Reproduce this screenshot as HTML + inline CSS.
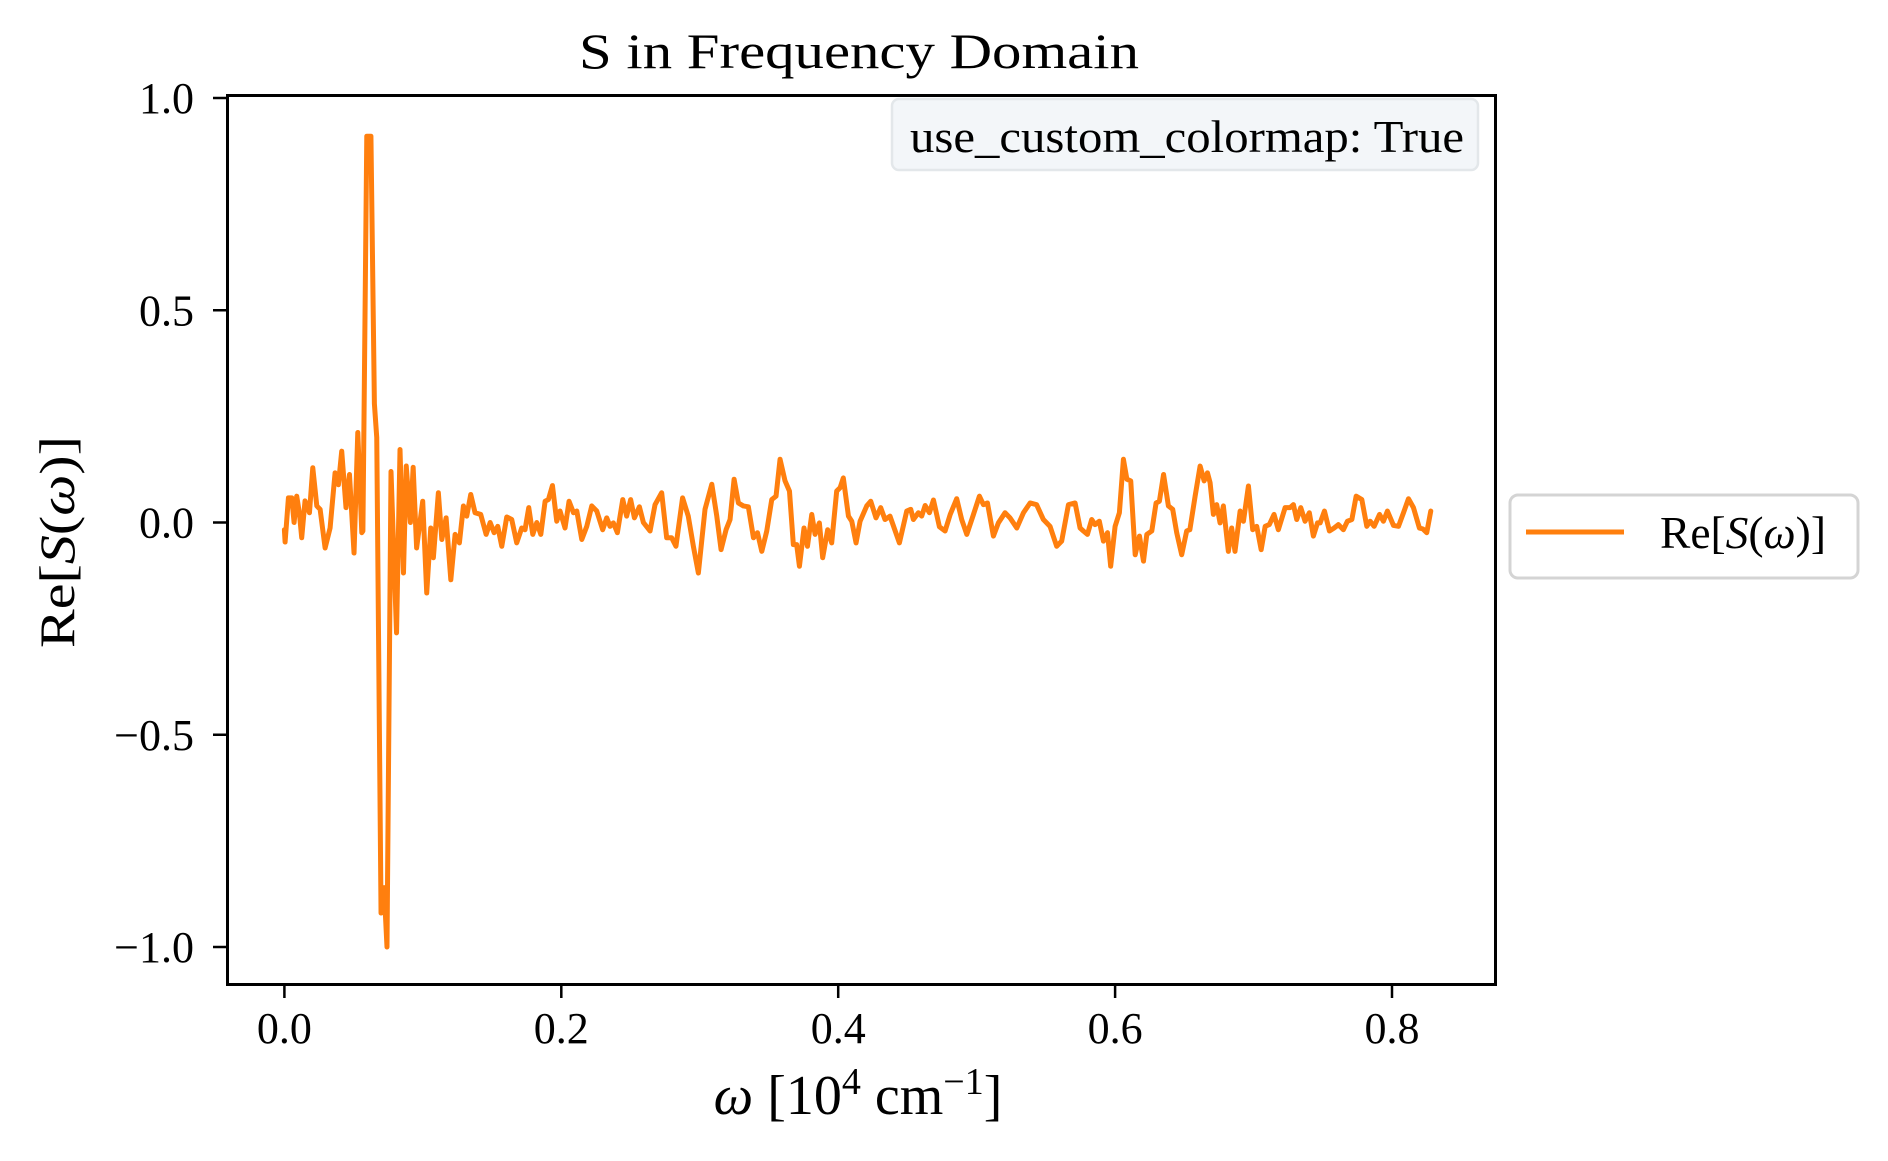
<!DOCTYPE html>
<html><head><meta charset="utf-8"><style>
html,body{margin:0;padding:0;background:#fff;}
svg{display:block;font-family:"Liberation Serif",serif;}
</style></head><body>
<svg id="chart" width="1888" height="1161" viewBox="0 0 1888 1161" xmlns="http://www.w3.org/2000/svg">
<rect x="0" y="0" width="1888" height="1161" fill="#fff"/>
<text x="859" y="68" font-size="50" text-anchor="middle" textLength="560" lengthAdjust="spacingAndGlyphs">S in Frequency Domain</text>
<g id="plot"></g>
<rect x="227.5" y="95.5" width="1268" height="889" fill="none" stroke="#000" stroke-width="3"/>
<g>
<rect x="892" y="99" width="586" height="71" rx="7" fill="#f3f6f9" stroke="#e3e7ea" stroke-width="2.5"/>
<text x="910" y="152" font-size="45" textLength="554" lengthAdjust="spacingAndGlyphs">use_custom_colormap: True</text>
</g>
<g>
<rect x="1510" y="495" width="348" height="83" rx="8" fill="#fff" stroke="#d4d4d4" stroke-width="3"/>
<line x1="1526" y1="532" x2="1624" y2="532" stroke="#ff7f0e" stroke-width="5"/>
<text x="1660" y="548" font-size="45" textLength="166" lengthAdjust="spacingAndGlyphs">Re[<tspan font-style="italic">S</tspan>(<tspan font-style="italic">ω</tspan>)]</text>
</g>
<text x="858" y="1114" font-size="56" text-anchor="middle"><tspan font-style="italic">ω</tspan> [10<tspan dy="-20" font-size="38">4</tspan><tspan dy="20"> cm</tspan><tspan dy="-20" font-size="38">−1</tspan><tspan dy="20">]</tspan></text>
<text transform="translate(74,542) rotate(-90)" font-size="50" text-anchor="middle" textLength="212" lengthAdjust="spacingAndGlyphs">Re[<tspan font-style="italic">S</tspan>(<tspan font-style="italic">ω</tspan>)]</text>
</svg>
<script>
const xTicks = [0.0, 0.2, 0.4, 0.6, 0.8];
const xTickLabels = ["0.0", "0.2", "0.4", "0.6", "0.8"];
const yTicks = [1.0, 0.5, 0.0, -0.5, -1.0];
const yTickLabels = ["1.0", "0.5", "0.0", "\u22120.5", "\u22121.0"];
const omega = [0.0,0.0005,0.0029,0.0053,0.007,0.0089,0.0108,0.0125,0.0149,0.0181,0.0205,0.0234,0.0258,0.0294,0.033,0.0366,0.039,0.0414,0.0445,0.047,0.0503,0.053,0.0559,0.0567,0.0595,0.0625,0.065,0.0667,0.0698,0.072,0.0741,0.0770,0.081,0.0835,0.086,0.088,0.091,0.093,0.0955,0.0999,0.1028,0.1057,0.1076,0.1112,0.1137,0.1168,0.1202,0.1233,0.1264,0.1293,0.1317,0.1346,0.1377,0.1418,0.1457,0.1486,0.1515,0.1541,0.157,0.1606,0.1642,0.1678,0.1714,0.1738,0.1765,0.1794,0.1823,0.1852,0.1883,0.1907,0.1936,0.1967,0.1991,0.2027,0.2056,0.2088,0.2112,0.2148,0.2184,0.222,0.2256,0.2299,0.2328,0.2352,0.2376,0.2405,0.2444,0.2472,0.2501,0.2528,0.2564,0.2593,0.2641,0.2677,0.2725,0.2761,0.2797,0.2828,0.2876,0.2917,0.2954,0.299,0.3038,0.3087,0.3123,0.3154,0.319,0.3219,0.3248,0.3279,0.3315,0.3351,0.3388,0.3417,0.3448,0.3484,0.352,0.3551,0.358,0.3616,0.3648,0.3676,0.37,0.372,0.3753,0.3778,0.3809,0.3833,0.3864,0.3888,0.3924,0.3953,0.3989,0.4014,0.4037,0.4074,0.4098,0.4129,0.4158,0.4206,0.4235,0.4273,0.4307,0.4338,0.4374,0.4442,0.4495,0.4524,0.4543,0.4579,0.4603,0.4628,0.4659,0.4688,0.4731,0.4772,0.4809,0.4856,0.4892,0.4929,0.4977,0.502,0.5049,0.5078,0.5121,0.5157,0.5205,0.5241,0.529,0.5338,0.5386,0.5433,0.5482,0.553,0.5578,0.5614,0.5663,0.5711,0.5747,0.5771,0.58,0.5831,0.5855,0.5886,0.5916,0.5945,0.5968,0.6,0.6031,0.606,0.6085,0.6113,0.6145,0.6176,0.6205,0.6229,0.6265,0.6296,0.632,0.635,0.6385,0.6416,0.6445,0.6481,0.6517,0.654,0.6578,0.6614,0.6643,0.6667,0.6686,0.671,0.6734,0.6758,0.6782,0.6818,0.6842,0.6866,0.6903,0.6927,0.6963,0.6994,0.7023,0.7055,0.7084,0.7114,0.7148,0.7179,0.7228,0.7264,0.7288,0.7312,0.7341,0.7372,0.7403,0.7432,0.7462,0.7481,0.7512,0.7548,0.7582,0.7613,0.7649,0.7678,0.771,0.7741,0.7782,0.7818,0.7842,0.7871,0.791,0.7938,0.7967,0.8011,0.8047,0.8083,0.8119,0.8155,0.8198,0.8222,0.8251,0.828];
const reS = [-0.017,-0.046,0.058,0.058,0.0,0.062,0.023,-0.036,0.051,0.023,0.129,0.039,0.031,-0.06,-0.013,0.117,0.089,0.168,0.035,0.113,-0.072,0.212,-0.024,-0.02,0.91,0.91,0.28,0.20,-0.92,-0.86,-1.0,0.12,-0.26,0.172,-0.119,0.133,0.0,0.13,-0.06,0.05,-0.166,-0.013,-0.083,0.07,-0.04,0.011,-0.135,-0.028,-0.048,0.039,0.015,0.066,0.023,0.019,-0.028,0.0,-0.024,-0.009,-0.056,0.013,0.007,-0.048,-0.013,-0.017,0.035,-0.028,0.0,-0.028,0.05,0.054,0.087,0.003,0.027,-0.013,0.05,0.023,0.027,-0.04,-0.009,0.039,0.027,-0.017,0.011,-0.009,-0.001,-0.024,0.054,0.015,0.054,0.011,0.037,0.0,-0.02,0.042,0.07,-0.036,-0.036,-0.056,0.058,0.015,-0.056,-0.119,0.031,0.09,0.015,-0.064,-0.017,0.007,0.102,0.046,0.039,0.037,-0.036,-0.024,-0.068,-0.02,0.054,0.062,0.149,0.098,0.074,-0.052,-0.052,-0.103,-0.013,-0.056,0.019,-0.028,-0.001,-0.083,-0.017,-0.048,0.074,0.082,0.105,0.015,0.003,-0.048,0.003,0.039,0.05,0.011,0.035,0.007,0.015,-0.048,0.027,0.031,0.007,0.023,0.015,0.04,0.023,0.053,-0.01,-0.02,0.019,0.056,0.007,-0.028,0.019,0.062,0.042,0.046,-0.032,-0.001,0.023,0.011,-0.013,0.023,0.046,0.042,0.007,-0.009,-0.056,-0.044,0.042,0.046,-0.013,-0.02,-0.028,0.007,-0.005,0.003,-0.044,-0.024,-0.103,-0.009,0.023,0.149,0.102,0.098,-0.076,-0.032,-0.091,-0.028,-0.02,0.046,0.05,0.113,0.039,0.031,-0.024,-0.076,-0.02,-0.017,0.062,0.133,0.098,0.117,0.094,0.019,0.042,-0.001,0.039,-0.068,-0.013,-0.068,0.027,0.003,0.086,-0.017,-0.009,-0.064,-0.009,-0.005,0.019,-0.017,0.035,0.035,0.042,0.007,0.035,0.003,0.023,-0.032,-0.001,-0.001,0.027,-0.02,-0.013,-0.005,-0.017,0.003,0.007,0.062,0.054,-0.009,0.003,-0.009,0.019,0.003,0.027,-0.007,-0.009,0.023,0.056,0.035,-0.013,-0.015,-0.024,0.027];

const NS = "http://www.w3.org/2000/svg";
function xScale(v){ return 284.4 + v * 1384.5; }
function yScale(v){ return 522.5 - v * 424.5; }
const svg = document.getElementById('chart');
const plot = document.getElementById('plot');

let d = "";
for (let i = 0; i < omega.length; i++) {
  d += (i ? "L" : "M") + xScale(omega[i]).toFixed(2) + " " + yScale(reS[i]).toFixed(2);
}
const path = document.createElementNS(NS, 'path');


path.setAttribute('d', d);
path.setAttribute('fill', 'none');
path.setAttribute('stroke', '#ff7f0e');
path.setAttribute('stroke-width', '5');
path.setAttribute('stroke-linejoin', 'round');
path.setAttribute('stroke-linecap', 'round');
plot.appendChild(path);

for (let i = 0; i < xTicks.length; i++) {
  const x = xScale(xTicks[i]);
  const t = document.createElementNS(NS, 'line');
  
  
  t.setAttribute('x1', x); t.setAttribute('x2', x);
  t.setAttribute('y1', 985); t.setAttribute('y2', 998);
  t.setAttribute('stroke', '#000'); t.setAttribute('stroke-width', '2.5');
  svg.appendChild(t);
  const lb = document.createElementNS(NS, 'text');
  
  
  lb.setAttribute('x', x); lb.setAttribute('y', 1043);
  lb.setAttribute('font-size', '44'); lb.setAttribute('text-anchor', 'middle');
  lb.textContent = xTickLabels[i];
  svg.appendChild(lb);
}
for (let i = 0; i < yTicks.length; i++) {
  const y = yScale(yTicks[i]);
  const t = document.createElementNS(NS, 'line');
  
  
  t.setAttribute('x1', 213); t.setAttribute('x2', 227);
  t.setAttribute('y1', y); t.setAttribute('y2', y);
  t.setAttribute('stroke', '#000'); t.setAttribute('stroke-width', '2.5');
  svg.appendChild(t);
  const lb = document.createElementNS(NS, 'text');
  
  
  lb.setAttribute('x', 194); lb.setAttribute('y', y + 15);
  lb.setAttribute('font-size', '44'); lb.setAttribute('text-anchor', 'end');
  lb.textContent = yTickLabels[i];
  svg.appendChild(lb);
}
</script>
</body></html>
